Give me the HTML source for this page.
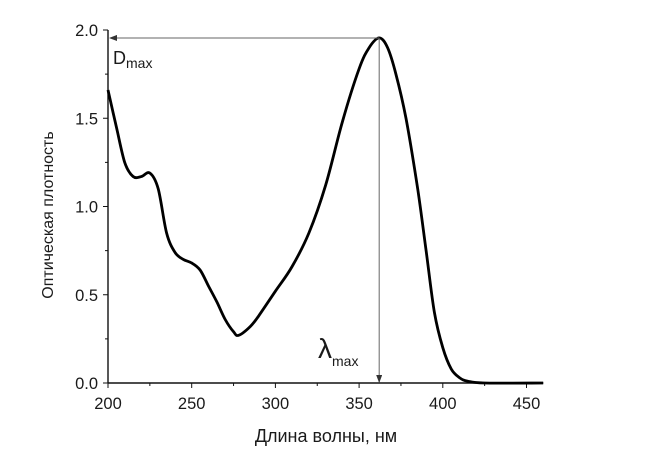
<!DOCTYPE html>
<html><head><meta charset="utf-8"><style>
body{margin:0;background:#fff;width:651px;height:457px;overflow:hidden}
svg text{font-family:"Liberation Sans","DejaVu Sans",sans-serif;fill:#1a1a1a}
</style></head><body>
<svg id="chart" width="651" height="457" xmlns="http://www.w3.org/2000/svg">
<defs><marker id="ah" markerWidth="8" markerHeight="6" refX="7" refY="3" orient="auto"><path d="M0,0 L8,3 L0,6 z" fill="#333"/></marker></defs>
<g id="axes"></g>
<g id="plot"></g>
<text transform="translate(53,215) rotate(-90)" text-anchor="middle" font-size="16">Оптическая плотность</text>
<text x="326" y="442" text-anchor="middle" font-size="18">Длина волны, нм</text>
<text x="113" y="64" font-size="18">D<tspan font-size="14" dy="4">max</tspan></text>
<text x="318" y="358" font-size="28">λ<tspan font-size="14" dy="8">max</tspan></text>
</svg>
<script>
const wavelengths=[200,205,210,215,220,225,230,235,240,245,250,255,260,265,270,275,278,285,290,300,310,320,330,340,350,356,362,367,372,378,385,390,395,400,405,410,415,425,460];
const absorbance=[1.66,1.45,1.25,1.17,1.17,1.19,1.1,0.85,0.74,0.7,0.68,0.64,0.55,0.46,0.36,0.29,0.27,0.32,0.38,0.52,0.66,0.85,1.12,1.48,1.78,1.9,1.955,1.9,1.75,1.5,1.1,0.75,0.4,0.2,0.08,0.03,0.01,0,0];
const xTicks=[200,250,300,350,400,450];
const yTicks=[0.0,0.5,1.0,1.5,2.0];
const peakWl=362, peakAbs=1.955;
const NS="http://www.w3.org/2000/svg";
const X0=108,PX=83.7/50,Y0=383,PY=176.5;
const sx=v=>X0+(v-200)*PX, sy=v=>Y0-v*PY;
function mk(p,t,a){const e=document.createElementNS(NS,t);for(const k in a)e.setAttribute(k,a[k]);p.appendChild(e);return e;}
const ax=document.getElementById('axes'),pl=document.getElementById('plot');
let l=mk(ax,'line',{x1:X0,y1:Y0,x2:sx(460),y2:Y0,stroke:'#111','stroke-width':1.4});


l=mk(ax,'line',{x1:X0,y1:Y0,x2:X0,y2:sy(2),stroke:'#111','stroke-width':1.4});


xTicks.forEach(v=>{mk(ax,'line',{x1:sx(v),y1:Y0,x2:sx(v),y2:Y0+5,stroke:'#111'});
 if(v+25<=460)mk(ax,'line',{x1:sx(v+25),y1:Y0,x2:sx(v+25),y2:Y0+3,stroke:'#111'});
 const t=mk(ax,'text',{x:sx(v),y:Y0+26,'text-anchor':'middle','font-size':16.5});t.textContent=v;
 
 });
yTicks.forEach(v=>{mk(ax,'line',{x1:X0-5,y1:sy(v),x2:X0,y2:sy(v),stroke:'#111'});
 if(v<2)mk(ax,'line',{x1:X0-3,y1:sy(v+0.25),x2:X0,y2:sy(v+0.25),stroke:'#111'});
 const t=mk(ax,'text',{x:X0-10,y:sy(v)+6,'text-anchor':'end','font-size':16.5});t.textContent=v.toFixed(1);
 
 });
const P=wavelengths.map((w,i)=>[sx(w),sy(absorbance[i])]);
let d='M'+P[0][0].toFixed(1)+','+P[0][1].toFixed(1);
for(let i=0;i<P.length-1;i++){const p0=P[Math.max(0,i-1)],p1=P[i],p2=P[i+1],p3=P[Math.min(P.length-1,i+2)];
 const c1=[p1[0]+(p2[0]-p0[0])/6,p1[1]+(p2[1]-p0[1])/6],c2=[p2[0]-(p3[0]-p1[0])/6,p2[1]-(p3[1]-p1[1])/6];
 d+=' C'+c1.map(n=>n.toFixed(1)).join(',')+' '+c2.map(n=>n.toFixed(1)).join(',')+' '+p2.map(n=>n.toFixed(1)).join(',');}
const c=mk(pl,'path',{d:d,fill:'none',stroke:'#000','stroke-width':2.8,'stroke-linejoin':'round'});


const h=mk(pl,'line',{x1:sx(peakWl),y1:sy(peakAbs),x2:X0+2,y2:sy(peakAbs),stroke:'#666','stroke-width':1,'marker-end':'url(#ah)'});


const v=mk(pl,'line',{x1:sx(peakWl),y1:sy(peakAbs),x2:sx(peakWl),y2:Y0-1,stroke:'#666','stroke-width':1,'marker-end':'url(#ah)'});


</script>
</body></html>
